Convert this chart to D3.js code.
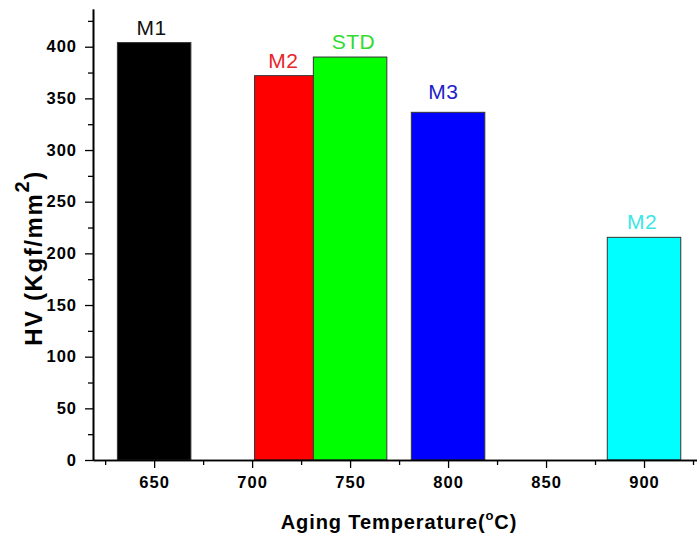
<!DOCTYPE html>
<html>
<head>
<meta charset="utf-8">
<script src="https://cdn.jsdelivr.net/npm/d3@7"></script>
<style>
  html, body { margin: 0; padding: 0; background: #fff; }
  svg { display: block; }
  text { font-family: Arial, "Liberation Sans", sans-serif; }
</style>
</head>
<body>
<svg id="chart" width="697" height="538"></svg>
<script>
// ---- data ----
const categories = ["M1", "M2", "STD", "M3", "M2"];
const temperatures = [650, 720, 750, 800, 900];
const hardness = [404, 372, 390, 336.5, 215.5];
const barColors = ["#000000", "#ff0000", "#00ff00", "#0000ff", "#00ffff"];
const labelColors = ["#111111", "#e8252b", "#2fdc2f", "#2222c8", "#3ce6e6"];
const labelTemps = [648.7, 716, 751.7, 797.6, 899];
const labelHV = [411, 379, 398, 349, 224];
const barWidthC = 37.5;
const xMajorTicks = [650, 700, 750, 800, 850, 900];
const xMinorTicks = [625, 675, 725, 775, 825, 875, 925];
const yMajorTicks = [0, 50, 100, 150, 200, 250, 300, 350, 400];
const yMinorTicks = [25, 75, 125, 175, 225, 275, 325, 375, 425];

const svg = d3.select("#chart");
const x = d3.scaleLinear().domain([618.8, 950]).range([93, 742]);
const y = d3.scaleLinear().domain([0, 436.5]).range([460, 9]);

const data = categories.map((c, i) => ({
  cat: c, t: temperatures[i], v: hardness[i],
  color: barColors[i], lc: labelColors[i], lx: labelTemps[i], ly: labelHV[i]
}));

// bars
svg.append("g").selectAll("rect").data(data).join("rect")
  .attr("x", d => x(d.t - barWidthC / 2))
  .attr("width", d => x(d.t + barWidthC / 2) - x(d.t - barWidthC / 2))
  .attr("y", d => y(d.v))
  .attr("height", d => y(0) - y(d.v))
  .attr("fill", d => d.color)
  .attr("stroke", "#333")
  .attr("stroke-width", 1);

// bar labels
svg.append("g").selectAll("text").data(data).join("text")
  .attr("x", d => x(d.lx))
  .attr("y", d => y(d.ly))
  .attr("text-anchor", "middle")
  .attr("font-size", 21)
  .attr("letter-spacing", "0.5px")
  .attr("fill", d => d.lc)
  .text(d => d.cat);

// axes
const xAxis = svg.append("g").attr("transform", `translate(0,${y(0)})`)
  .call(d3.axisBottom(x).tickValues(xMajorTicks).tickSize(8).tickPadding(8).tickSizeOuter(0));
const xMinor = svg.append("g").attr("transform", `translate(0,${y(0)})`)
  .call(d3.axisBottom(x).tickValues(xMinorTicks).tickSize(5).tickFormat("").tickSizeOuter(0));
const yAxis = svg.append("g").attr("transform", `translate(${x.range()[0]},0)`)
  .call(d3.axisLeft(y).tickValues(yMajorTicks).tickSize(8).tickPadding(8).tickSizeOuter(0));
const yMinor = svg.append("g").attr("transform", `translate(${x.range()[0]},0)`)
  .call(d3.axisLeft(y).tickValues(yMinorTicks).tickSize(5).tickFormat("").tickSizeOuter(0));

[xAxis, xMinor, yAxis, yMinor].forEach(g => {
  g.selectAll(".domain").attr("stroke", "#000").attr("stroke-width", 1.6);
  g.selectAll(".tick line").attr("stroke", "#000").attr("stroke-width", 1.3);
  g.selectAll(".tick text")
    .attr("font-family", "Arial, 'Liberation Sans', sans-serif")
    .attr("font-size", 16.5).attr("font-weight", "bold")
    .attr("letter-spacing", "1px").attr("fill", "#000");
});

// axis titles
const xt = svg.append("text")
  .attr("x", 399).attr("y", 529)
  .attr("text-anchor", "middle")
  .attr("font-size", 20).attr("font-weight", "bold")
  .attr("letter-spacing", "0.9px");
xt.append("tspan").text("Aging Temperature(");
xt.append("tspan").attr("font-size", 13).attr("dy", -9).text("o");
xt.append("tspan").attr("dy", 9).text("C)");

const yt = svg.append("text")
  .attr("transform", "translate(42,258) rotate(-90)")
  .attr("text-anchor", "middle")
  .attr("font-size", 24).attr("font-weight", "bold")
  .attr("letter-spacing", "1.6px");
yt.append("tspan").text("HV (Kgf/mm");
yt.append("tspan").attr("font-size", 20).attr("dy", -13).text("2");
yt.append("tspan").attr("dy", 13).text(")");
</script>
</body>
</html>
